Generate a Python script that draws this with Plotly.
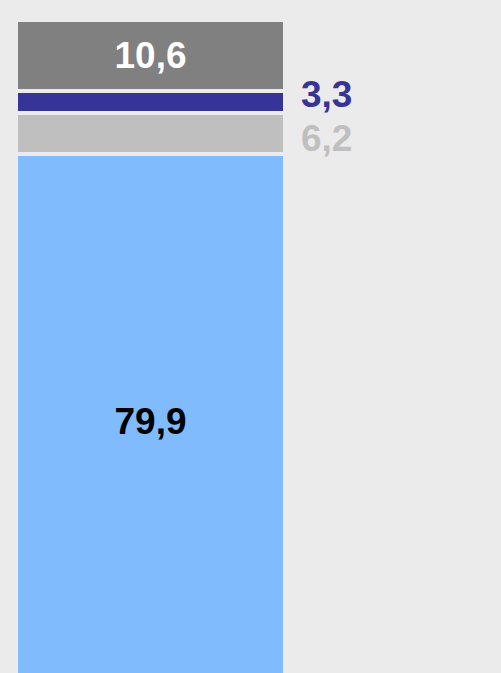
import plotly.graph_objects as go

categories = ["A"]
series_names = ["Blau", "Hellgrau", "Dunkelblau", "Grau"]
series_values = [79.9, 6.2, 3.3, 10.6]
series_colors = ["#7FBBFD", "#BFBFBF", "#363496", "#808080"]
label_colors = ["#000000", "#BFBFBF", "#363496", "#FFFFFF"]
label_inside = [True, False, False, True]
label_yshift = [0, -5, 7, 0]

bg = "#EBEBEB"
FONT = "Liberation Sans, Arial, sans-serif"
fig = go.Figure()
for name, val, col, lc, ins in zip(series_names, series_values, series_colors, label_colors, label_inside):
    fig.add_trace(go.Bar(
        x=[0], y=[val], name=name, width=1,
        marker=dict(color=col, line=dict(color=bg, width=4)),
        text=[f"{val:.1f}".replace(".", ",")] if ins else None,
        textposition="inside", insidetextanchor="middle",
        textfont=dict(family=FONT, size=37, color=lc, weight="bold"),
        hoverinfo="skip",
    ))

cum = 0
for name, val, lc, ins, ys in zip(series_names, series_values, label_colors, label_inside, label_yshift):
    if not ins:
        fig.add_annotation(
            x=0.5, y=cum + val / 2, xref="x", yref="y",
            text=f"<b>{val:.1f}</b>".replace(".", ","), showarrow=False,
            xanchor="left", yanchor="middle", xshift=14, yshift=ys,
            font=dict(family=FONT, size=37, color=lc),
        )
    cum += val

fig.update_layout(
    barmode="stack", width=501, height=673,
    margin=dict(l=0, r=0, t=0, b=0),
    paper_bgcolor=bg, plot_bgcolor=bg, showlegend=False,
    uniformtext=dict(mode=False),
    xaxis=dict(range=[-0.5595, 1.303], visible=False, fixedrange=True),
    yaxis=dict(range=[2.245, 102.99], visible=False, fixedrange=True),
    font=dict(family=FONT),
)
fig.write_html("out.html", config={"displayModeBar": False},
               post_script="document.body.style.margin='0';document.body.style.background='#EBEBEB';")
